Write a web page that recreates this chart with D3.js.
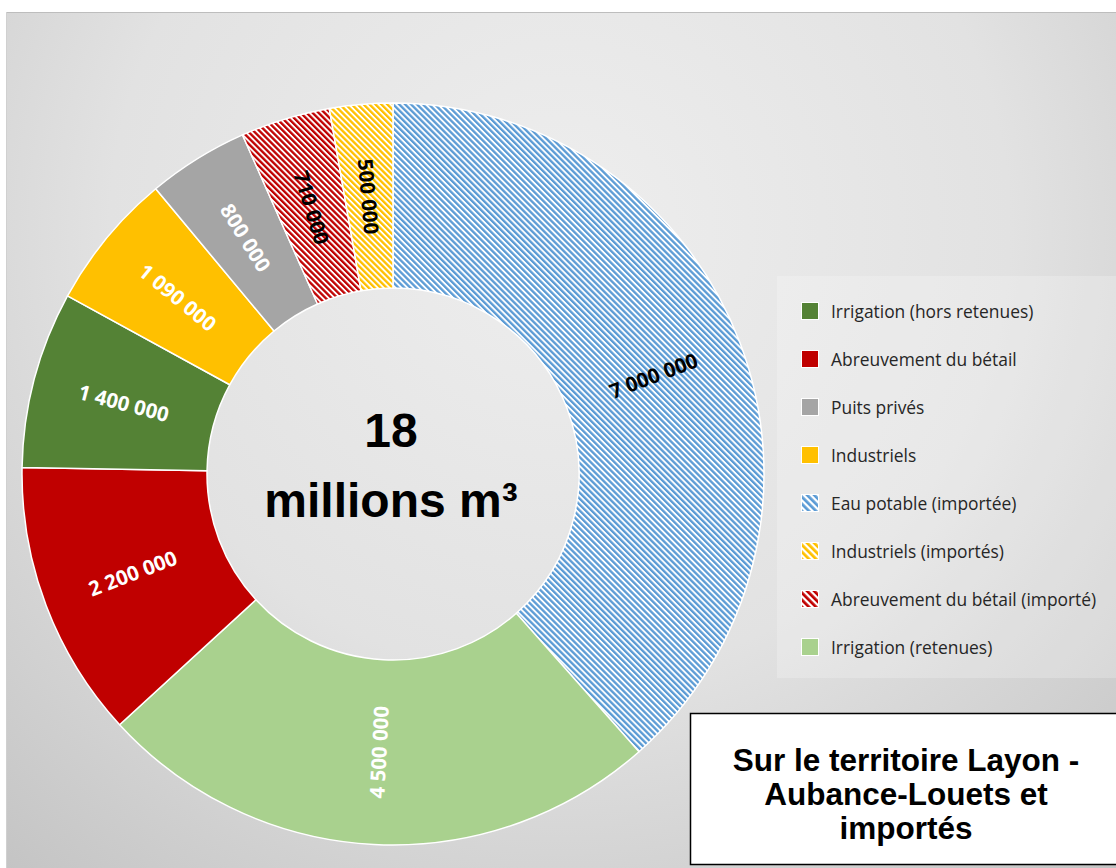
<!DOCTYPE html>
<html>
<head>
<meta charset="utf-8">
<script src="https://cdn.jsdelivr.net/npm/d3@7"></script>
<style>
  html, body { margin: 0; padding: 0; background: #ffffff; }
  svg { display: block; }
</style>
</head>
<body>
<svg id="chart" width="1116" height="868"></svg>
<script>
// Volumes prélevés (m³), dans l'ordre des secteurs en partant du haut
const sliceNames = [
  "Eau potable (importée)",
  "Irrigation (retenues)",
  "Abreuvement du bétail",
  "Irrigation (hors retenues)",
  "Industriels",
  "Puits privés",
  "Abreuvement du bétail (importé)",
  "Industriels (importés)"
];
const sliceValues = [7000000, 4500000, 2200000, 1400000, 1090000, 800000, 710000, 500000];

// Ordre de la légende
const legendNames = [
  "Irrigation (hors retenues)",
  "Abreuvement du bétail",
  "Puits privés",
  "Industriels",
  "Eau potable (importée)",
  "Industriels (importés)",
  "Abreuvement du bétail (importé)",
  "Irrigation (retenues)"
];

const centerLines = ["18", "millions m³"];
const boxLines = ["Sur le territoire Layon -", "Aubance-Louets et", "importés"];

// Couleurs et motifs
const baseColor = {
  "Eau potable (importée)": "#5B9BD5",
  "Irrigation (retenues)": "#A9D18E",
  "Abreuvement du bétail": "#C00000",
  "Irrigation (hors retenues)": "#548235",
  "Industriels": "#FFC000",
  "Puits privés": "#A5A5A5",
  "Abreuvement du bétail (importé)": "#C00000",
  "Industriels (importés)": "#FFC000"
};
const hatched = new Set(["Eau potable (importée)", "Abreuvement du bétail (importé)", "Industriels (importés)"]);

const svg = d3.select("#chart");
const defs = svg.append("defs");

// Fond de la zone graphique
const bg = defs.append("radialGradient").attr("id", "bgGrad")
  .attr("gradientUnits", "userSpaceOnUse")
  .attr("cx", 560).attr("cy", 230).attr("r", 900);
bg.append("stop").attr("offset", "0%").attr("stop-color", "#eeeeee");
bg.append("stop").attr("offset", "50%").attr("stop-color", "#e2e2e2");
bg.append("stop").attr("offset", "100%").attr("stop-color", "#c0c0c0");

const keyOf = name => "p" + sliceNames.indexOf(name);
function makeHatch(id, color, size) {
  const p = defs.append("pattern").attr("id", id)
    .attr("patternUnits", "userSpaceOnUse")
    .attr("width", size).attr("height", size)
    .attr("patternTransform", "rotate(-45)");
  p.append("rect").attr("width", size).attr("height", size).attr("fill", "#ffffff");
  p.append("rect").attr("width", size * 0.55).attr("height", size).attr("fill", color);
}
hatched.forEach(n => {
  makeHatch(keyOf(n), baseColor[n], 4.2);
  makeHatch(keyOf(n) + "L", baseColor[n], 5);
});
const fillOf = (n, legend) => hatched.has(n) ? `url(#${keyOf(n)}${legend ? "L" : ""})` : baseColor[n];

svg.append("rect").attr("x", 6).attr("y", 12).attr("width", 1110).attr("height", 856)
  .attr("fill", "url(#bgGrad)");
svg.append("line").attr("x1", 6).attr("x2", 1116).attr("y1", 12.5).attr("y2", 12.5)
  .attr("stroke", "#bdbdbd").attr("stroke-width", 1);
svg.append("line").attr("x1", 6.5).attr("x2", 6.5).attr("y1", 12).attr("y2", 868)
  .attr("stroke", "#d0d0d0").attr("stroke-width", 1);

// Anneau
const cx = 393, cy = 474, rOuter = 371, rInner = 186;
const data = sliceNames.map((n, i) => ({ name: n, value: sliceValues[i] }));
const pie = d3.pie().value(d => d.value).sort(null);
const arcs = pie(data);
const arc = d3.arc().innerRadius(rInner).outerRadius(rOuter);

const g = svg.append("g").attr("transform", `translate(${cx},${cy})`);
g.selectAll("path.slice").data(arcs).join("path")
  .attr("class", "slice")
  .attr("d", arc)
  .attr("fill", d => fillOf(d.data.name, false))
  .attr("stroke", "#ffffff")
  .attr("stroke-width", 1.5)
  .attr("stroke-linejoin", "round");

// Étiquettes de valeurs, orientées selon la tangente
const fr = d3.formatLocale({ decimal: ",", thousands: " ", grouping: [3], currency: ["", " €"] });
const fmt = fr.format(",");
const labelArc = d3.arc().innerRadius((rInner + rOuter) / 2).outerRadius((rInner + rOuter) / 2);
g.selectAll("text.val").data(arcs).join("text")
  .attr("class", "val")
  .attr("transform", d => {
    const [x, y] = labelArc.centroid(d);
    const mid = (d.startAngle + d.endAngle) / 2 * 180 / Math.PI;
    const rot = mid < 180 ? mid - 90 : mid - 270;
    return `translate(${x},${y}) rotate(${rot})`;
  })
  .attr("text-anchor", "middle")
  .attr("dominant-baseline", "central")
  .attr("font-family", "'Open Sans', 'Noto Sans', sans-serif")
  .attr("font-weight", "bold")
  .attr("font-size", 20.5)
  .attr("fill", d => hatched.has(d.data.name) ? "#000000" : "#ffffff")
  .text(d => fmt(d.data.value));

// Total au centre
const ct = svg.append("g").attr("font-family", "'Liberation Sans', Arial, sans-serif")
  .attr("font-weight", "bold").attr("font-size", 48).attr("fill", "#000")
  .attr("text-anchor", "middle");
ct.append("text").attr("x", cx - 2).attr("y", 447).text(centerLines[0]);
ct.append("text").attr("x", cx - 2).attr("y", 517).text(centerLines[1]);

// Légende
const lg = svg.append("g");
lg.append("rect").attr("x", 777).attr("y", 276).attr("width", 339).attr("height", 402)
  .attr("fill", "#ffffff").attr("fill-opacity", 0.22);
const rowY = d3.scalePoint().domain(legendNames).range([311, 647]);
const items = lg.selectAll("g.item").data(legendNames).join("g")
  .attr("class", "item")
  .attr("transform", d => `translate(0,${rowY(d)})`);
items.append("rect").attr("x", 801.5).attr("y", -8.5).attr("width", 17).attr("height", 17)
  .attr("fill", d => fillOf(d, true))
  .attr("stroke", "#ffffff").attr("stroke-width", 1);
items.append("text").attr("x", 831).attr("y", 0)
  .attr("dominant-baseline", "central")
  .attr("font-family", "'Open Sans', 'Noto Sans', sans-serif")
  .attr("font-size", 17.4).attr("fill", "#262626")
  .text(d => d);

// Encadré de titre
const box = svg.append("g");
box.append("rect").attr("x", 690.5).attr("y", 713.5).attr("width", 440).attr("height", 151)
  .attr("fill", "#ffffff").attr("stroke", "#000000").attr("stroke-width", 1.5);
box.selectAll("text").data(boxLines).join("text")
  .attr("x", 906).attr("y", (d, i) => 771 + i * 34)
  .attr("text-anchor", "middle")
  .attr("font-family", "'Liberation Sans', Arial, sans-serif")
  .attr("font-weight", "bold").attr("font-size", 31.5).attr("fill", "#000")
  .text(d => d);
</script>
</body>
</html>
